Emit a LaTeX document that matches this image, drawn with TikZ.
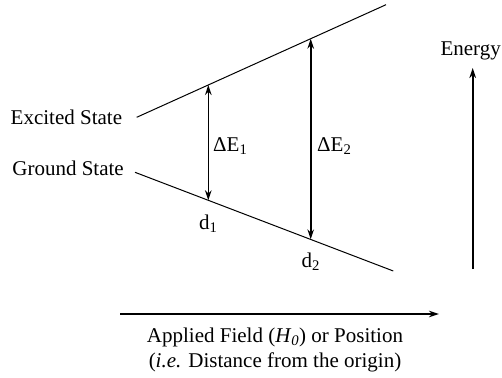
\documentclass[tikz,border=0pt]{standalone}
\usepackage{fontspec}
\setmainfont{Liberation Serif}
\usetikzlibrary{arrows.meta}
\begin{document}
\begin{tikzpicture}[x=1pt,y=-1pt,
  lbl/.style={inner sep=0pt,font=\fontsize{21}{25}\selectfont},
  state/.style={line width=1pt},
  darrow/.style={line width=1.6pt,{Stealth[length=10pt,width=6.5pt]}-{Stealth[length=10pt,width=6.5pt]}},
  sarrow/.style={line width=1.8pt,-{Stealth[length=10pt,width=6.5pt]}}]
\useasboundingbox (0,0) rectangle (502,377);
% state lines
\coordinate (ex1) at (136.7,117.3);
\coordinate (ex2) at (386,4.7);
\coordinate (gr1) at (135,172.3);
\coordinate (gr2) at (393.3,271);
\draw[state] (ex1) -- (ex2);
\draw[state] (gr1) -- (gr2);
% gap arrows
\coordinate (a1t) at (208.3,85.0);
\coordinate (a1b) at (208.3,200.3);
\coordinate (a2t) at (310.7,38.7);
\coordinate (a2b) at (310.7,239.4);
\draw[darrow] (a1b) -- (a1t);
\draw[darrow] (a2b) -- (a2t);
% labels
\node[lbl,anchor=east] (exl) at (122.3,117.3) {Excited State};
\node[lbl,anchor=east] (grl) at (124,168.3) {Ground State};
\node[lbl,anchor=west] (de1) at (213,145.7) {ΔE\textsubscript{1}};
\node[lbl,anchor=west] (de2) at (317,145.7) {ΔE\textsubscript{2}};
\node[lbl] (d1) at (208.3,223.3) {d\textsubscript{1}};
\node[lbl] (d2) at (310.7,261.7) {d\textsubscript{2}};
% energy axis
\node[lbl,anchor=east] (en) at (501,50.7) {Energy};
\coordinate (eb) at (472.7,269);
\coordinate (et) at (472.7,68);
\draw[sarrow] (eb) -- (et);
% field axis
\coordinate (hl) at (120,314);
\coordinate (hr) at (439,314);
\draw[sarrow] (hl) -- (hr);
\node[lbl] (ax1) at (275,337.7) {Applied Field (\textit{H}\textsubscript{\textit{0}}) or Position};
\node[lbl] (ax2) at (275,362.3) {(\textit{i.e.} Distance from the origin)};
\end{tikzpicture}
\end{document}
